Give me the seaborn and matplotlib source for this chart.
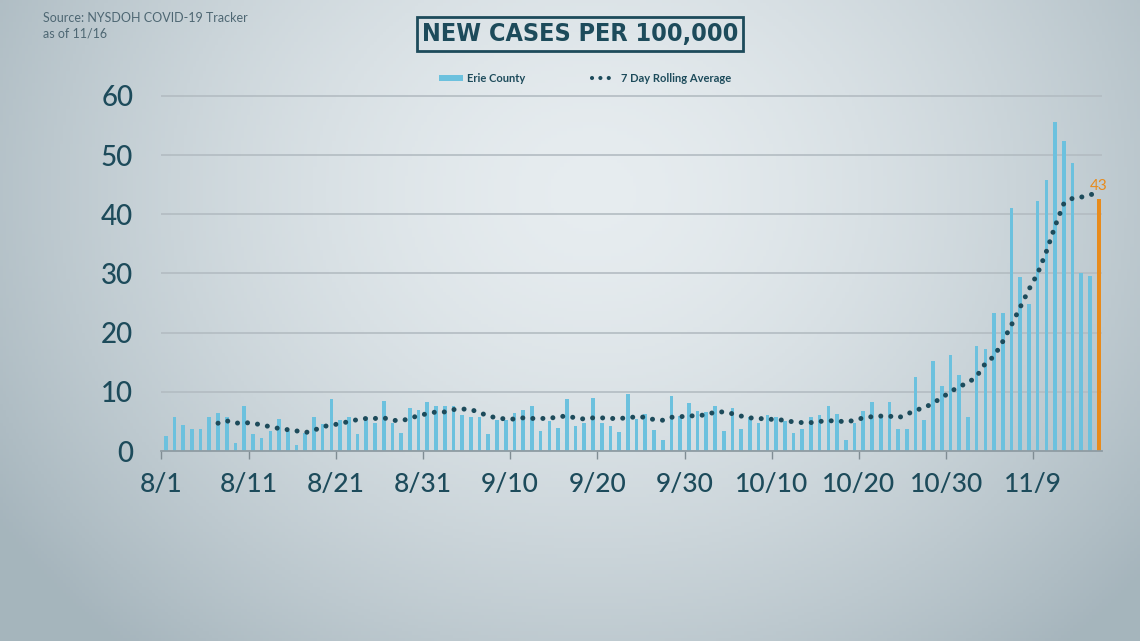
import numpy as np
import pandas as pd
import seaborn as sns
import matplotlib.pyplot as plt
from matplotlib.patches import Patch
from matplotlib.lines import Line2D

# daily new cases per 100k, Erie County, 8/1 - 11/16
dates = pd.date_range("2020-08-01", "2020-11-16", freq="D")
cases = [
    2.6, 5.8, 4.4, 3.8, 3.8, 5.8, 6.4, 5.8, 1.4, 7.6,
    2.8, 2.2, 3.3, 5.4, 3.4, 1.0, 3.1, 5.8, 4.5, 8.8,
    5.2, 5.7, 2.8, 5.7, 4.7, 8.5, 4.8, 3.1, 7.2, 7.0,
    8.2, 7.6, 7.6, 7.6, 6.1, 5.8, 5.8, 2.8, 5.2, 5.2,
    6.4, 6.9, 7.6, 3.3, 5.1, 3.9, 8.8, 4.3, 4.8, 8.9,
    4.7, 4.3, 3.2, 9.7, 5.4, 6.2, 3.6, 1.8, 9.3, 5.9,
    8.1, 6.8, 6.6, 7.6, 3.3, 7.2, 3.7, 5.7, 4.8, 6.1,
    5.7, 5.1, 3.1, 3.7, 5.8, 6.0, 7.6, 6.3, 1.8, 4.8,
    6.7, 8.3, 5.7, 8.3, 3.8, 3.8, 12.5, 5.3, 15.2, 11.0,
    16.3, 12.8, 5.7, 17.8, 17.3, 23.4, 23.4, 41.1, 29.4, 24.8,
    42.3, 45.8, 55.6, 52.3, 48.7, 30.1, 29.5, 42.5,
]

# 7 day rolling average, starts 8/7
avg_start = 6
rolling_avg = [
    4.7, 5.1, 4.7, 4.8, 4.7, 4.4, 4.1, 3.8, 3.6, 3.4,
    3.1, 3.5, 4.1, 4.4, 4.6, 5.0, 5.3, 5.5, 5.5, 5.6,
    5.2, 5.1, 5.5, 6.0, 6.3, 6.6, 6.6, 7.0, 7.1, 7.0,
    6.5, 5.9, 5.6, 5.4, 5.4, 5.6, 5.5, 5.5, 5.5, 5.8,
    5.9, 5.6, 5.4, 5.6, 5.6, 5.5, 5.5, 5.6, 5.8, 5.7,
    5.3, 5.2, 5.7, 5.8, 5.9, 6.0, 6.1, 6.6, 6.6, 6.3,
    5.9, 5.6, 5.5, 5.4, 5.3, 5.2, 4.9, 4.8, 4.8, 5.0,
    5.1, 5.1, 4.9, 5.2, 5.6, 5.8, 5.9, 5.9, 5.6, 6.2,
    6.9, 7.3, 8.1, 9.0, 10.0, 10.9, 11.5, 12.6, 14.8, 16.0,
    18.5, 21.3, 24.3, 27.3, 30.0, 33.7, 38.0, 41.8, 42.7, 42.9,
    43.3, 43.6,
]
last_label = "43"

yticks = [0, 10, 20, 30, 40, 50, 60]
tick_every = 10

blue = "#6cc1de"
orange = "#e88b1c"
dark = "#1d4b5b"
grid_c = "#b3bcc2"

day_idx = np.arange(len(cases))
df = pd.DataFrame({"day": day_idx, "cases": cases})
avg_df = pd.DataFrame({"day": np.arange(avg_start, avg_start + len(rolling_avg)),
                       "avg": rolling_avg})

sns.set_style("white")
plt.rcParams["font.family"] = ["Lato", "DejaVu Sans"]

fig = plt.figure(figsize=(11.4, 6.41), dpi=100)

# background vignette
bg = fig.add_axes([0, 0, 1, 1], zorder=-10)
yy, xx = np.mgrid[0:1:200j, 0:1:360j]
r = np.sqrt(((xx - 0.52) / 0.62) ** 2 + ((yy - 0.3) / 0.95) ** 2)
r = np.clip(r, 0, 1) ** 1.6
c0 = np.array([0.905, 0.928, 0.940])
c1 = np.array([0.650, 0.710, 0.740])
img = c0[None, None, :] + (c1 - c0)[None, None, :] * r[..., None]
bg.imshow(img, aspect="auto", extent=[0, 1, 0, 1], origin="upper")
bg.axis("off")

ax = fig.add_axes([161 / 1140, 1 - 451 / 641, (1102 - 161) / 1140, 361 / 641])
ax.patch.set_alpha(0)

sns.barplot(data=df, x="day", y="cases", native_scale=True, width=0.42,
            color=blue, saturation=1, linewidth=0, ax=ax, zorder=2)
ax.patches[-1].set_facecolor(orange)

sns.lineplot(data=avg_df, x="day", y="avg", ax=ax, color=dark, lw=3.6,
             linestyle=(0, (0.01, 2.0)), dash_capstyle="round", zorder=3)

ax.annotate(last_label, xy=(day_idx[-1], cases[-1]), xytext=(0, 5),
            textcoords="offset points", ha="center", va="bottom",
            color=orange, fontsize=11)

ax.set_xlim(-0.54, len(cases) - 1 + 0.38)
ax.set_ylim(0, 61)
ax.set_yticks(yticks)
ax.set_yticklabels([str(v) for v in yticks])
xt = list(range(0, len(cases) - 7, tick_every))
ax.set_xticks([t - 0.5 for t in xt])
ax.set_xticklabels([f"{dates[t].month}/{dates[t].day}" for t in xt])

ax.grid(axis="y", color=grid_c, lw=1.2, zorder=0)
ax.grid(axis="x", visible=False)
for s in ["top", "right", "left"]:
    ax.spines[s].set_visible(False)
ax.spines["bottom"].set_color("#8f9ca3")
ax.spines["bottom"].set_linewidth(1.3)
ax.spines["bottom"].set_zorder(4)
ax.tick_params(axis="y", length=0, pad=20, labelsize=20, labelcolor=dark)
ax.tick_params(axis="x", length=6, width=1, color="#7f8c93", pad=9,
               labelsize=19, labelcolor=dark, bottom=True)
for lab in ax.get_xticklabels() + ax.get_yticklabels():
    lab.set_fontweight("medium")
ax.set_xlabel("")
ax.set_ylabel("")

# title box
fig.text(580 / 1140, 1 - 34 / 641, "NEW CASES PER 100,000",
         ha="center", va="center", fontsize=18, color=dark,
         family=["DejaVu Sans"], fontstretch="condensed", fontweight="bold",
         bbox=dict(boxstyle="square,pad=0.2", fc="none", ec=dark, lw=2))

fig.text(43 / 1140, 1 - 18 / 641, "Source: NYSDOH COVID-19 Tracker",
         ha="left", va="center", fontsize=9, color="#4e6773")
fig.text(43 / 1140, 1 - 33 / 641, "as of 11/16",
         ha="left", va="center", fontsize=9, color="#4e6773")

handles = [
    Patch(facecolor=blue, edgecolor="none", label="Erie County"),
    Line2D([0], [0], color=dark, lw=3, linestyle=(0, (0.01, 2.0)),
           dash_capstyle="round", label="7 Day Rolling Average"),
]
leg = fig.legend(handles=handles, loc="center", bbox_to_anchor=(585 / 1140, 1 - 78 / 641),
                 ncol=2, frameon=False, fontsize=8, columnspacing=6,
                 handlelength=2.2, handleheight=0.45, handletextpad=0.4)
for t in leg.get_texts():
    t.set_color(dark)
    t.set_fontweight("bold")

fig.savefig("out.png", dpi=100)
